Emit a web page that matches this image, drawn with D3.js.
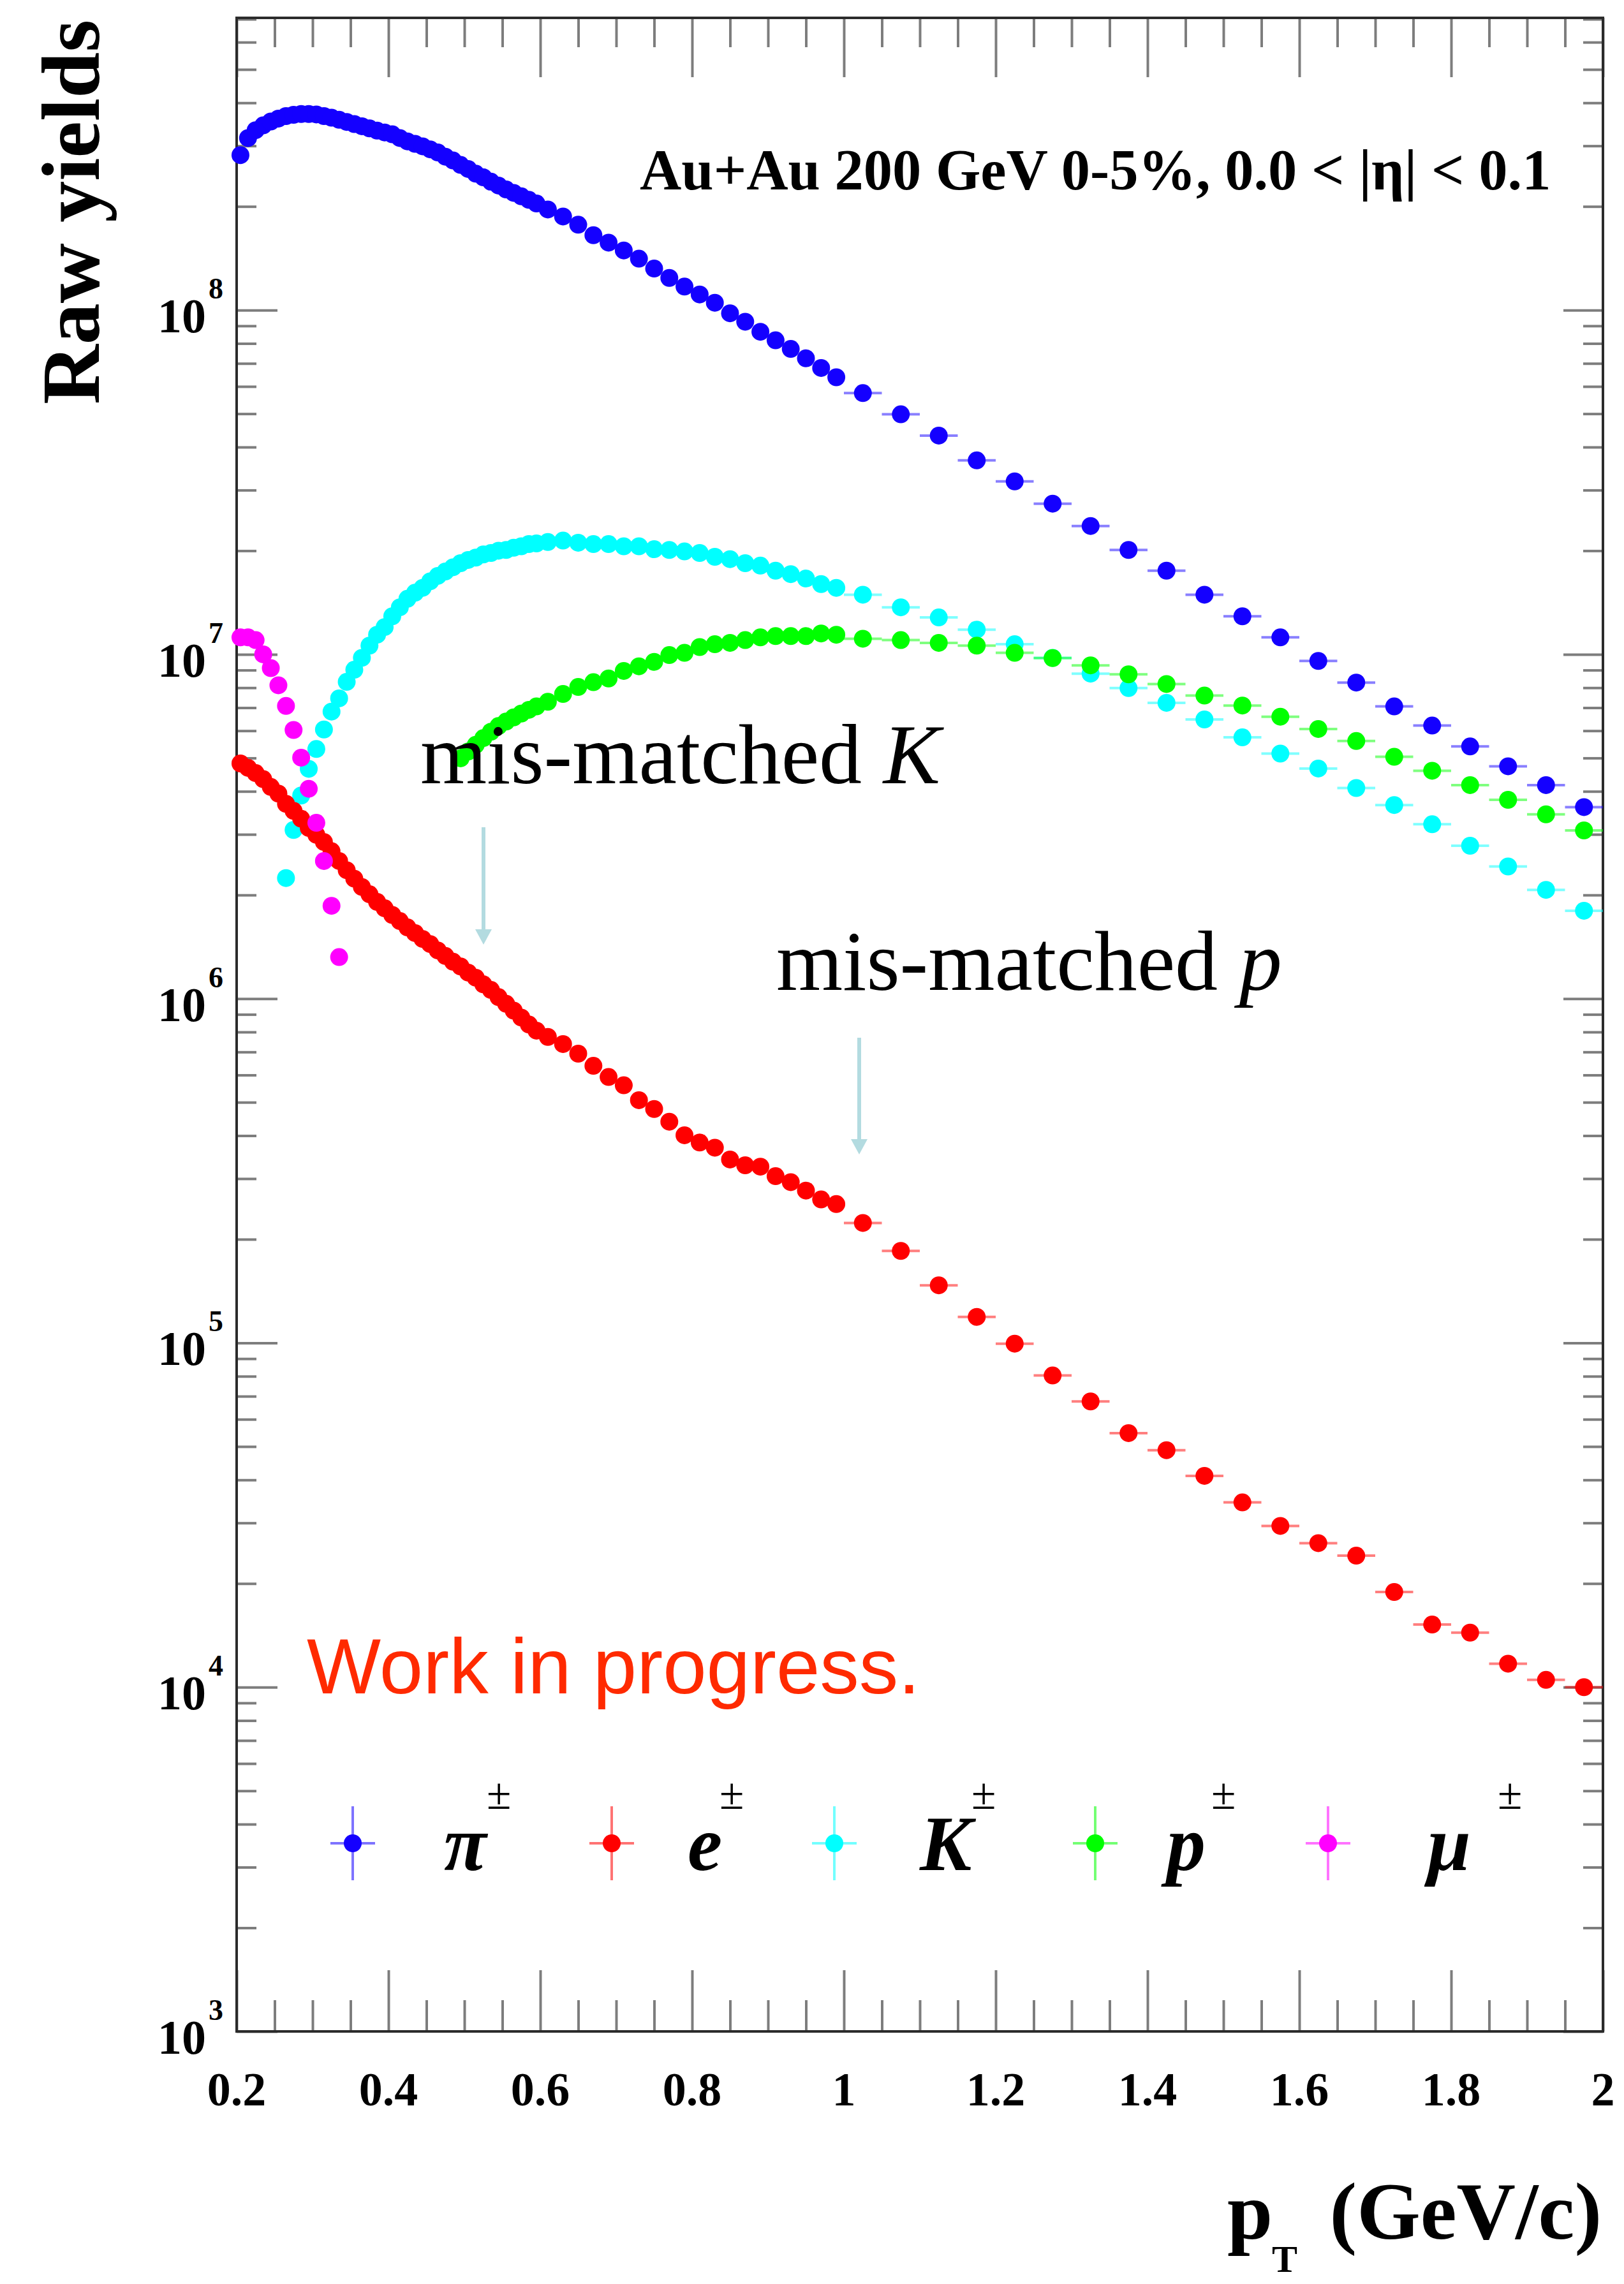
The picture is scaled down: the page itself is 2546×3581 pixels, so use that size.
<!DOCTYPE html>
<html>
<head>
  <meta charset="utf-8">
  <title>Raw yields vs pT</title>
  <style>
    body { margin: 0; background: #fff; }
    svg text { font-family: "Liberation Serif", "Times New Roman", serif; }
  </style>
</head>
<body>
<div id="chart"></div>
<script src="https://d3js.org/d3.v7.min.js"></script>
<script>
// pT bin centres (GeV/c): 0.01 wide below 0.6, 0.02 wide to 1.0, 0.05 wide above
var ptBins = [0.205, 0.215, 0.225, 0.235, 0.245, 0.255, 0.265, 0.275, 0.285, 0.295,
              0.305, 0.315, 0.325, 0.335, 0.345, 0.355, 0.365, 0.375, 0.385, 0.395,
              0.405, 0.415, 0.425, 0.435, 0.445, 0.455, 0.465, 0.475, 0.485, 0.495,
              0.505, 0.515, 0.525, 0.535, 0.545, 0.555, 0.565, 0.575, 0.585, 0.595,
              0.61, 0.63, 0.65, 0.67, 0.69, 0.71, 0.73, 0.75, 0.77, 0.79,
              0.81, 0.83, 0.85, 0.87, 0.89, 0.91, 0.93, 0.95, 0.97, 0.99,
              1.025, 1.075, 1.125, 1.175, 1.225, 1.275, 1.325, 1.375, 1.425, 1.475,
              1.525, 1.575, 1.625, 1.675, 1.725, 1.775, 1.825, 1.875, 1.925, 1.975];

// raw yields, one value per bin starting at the series' first bin
var pionYield = [2.82e8, 3.16e8, 3.33e8, 3.44e8, 3.53e8, 3.60e8, 3.66e8, 3.69e8, 3.71e8, 3.71e8,
                 3.70e8, 3.66e8, 3.62e8, 3.57e8, 3.52e8, 3.47e8, 3.42e8, 3.37e8, 3.32e8, 3.28e8,
                 3.24e8, 3.16e8, 3.09e8, 3.04e8, 2.99e8, 2.93e8, 2.87e8, 2.79e8, 2.72e8, 2.64e8,
                 2.57e8, 2.49e8, 2.43e8, 2.36e8, 2.30e8, 2.24e8, 2.19e8, 2.14e8, 2.09e8, 2.04e8,
                 1.96e8, 1.87e8, 1.77e8, 1.65e8, 1.57e8, 1.49e8, 1.41e8, 1.32e8, 1.24e8, 1.17e8,
                 1.11e8, 1.05e8, 9.79e7, 9.25e7, 8.65e7, 8.17e7, 7.71e7, 7.24e7, 6.79e7, 6.38e7,
                 5.74e7, 4.98e7, 4.32e7, 3.66e7, 3.18e7, 2.74e7, 2.36e7, 2.01e7, 1.75e7, 1.49e7,
                 1.29e7, 1.12e7, 9.57e6, 8.28e6, 7.06e6, 6.21e6, 5.40e6, 4.73e6, 4.17e6, 3.60e6];

var electronYield = [4.82e6, 4.68e6, 4.52e6, 4.34e6, 4.12e6, 3.94e6, 3.68e6, 3.51e6, 3.33e6, 3.13e6,
                     2.99e6, 2.85e6, 2.68e6, 2.51e6, 2.36e6, 2.23e6, 2.11e6, 2.01e6, 1.91e6, 1.83e6,
                     1.75e6, 1.68e6, 1.61e6, 1.55e6, 1.49e6, 1.44e6, 1.38e6, 1.33e6, 1.28e6, 1.24e6,
                     1.19e6, 1.15e6, 1.10e6, 1.06e6, 1.01e6, 9.66e5, 9.23e5, 8.81e5, 8.41e5, 8.07e5,
                     7.74e5, 7.38e5, 6.92e5, 6.38e5, 5.92e5, 5.60e5, 5.07e5, 4.78e5, 4.39e5, 4.01e5,
                     3.82e5, 3.69e5, 3.41e5, 3.28e5, 3.25e5, 3.05e5, 2.93e5, 2.77e5, 2.61e5, 2.53e5,
                     2.23e5, 1.85e5, 1.47e5, 1.19e5, 9.95e4, 8.04e4, 6.76e4, 5.47e4, 4.88e4, 4.11e4,
                     3.44e4, 2.94e4, 2.62e4, 2.41e4, 1.89e4, 1.52e4, 1.44e4, 1.17e4, 1.05e4, 1.00e4];

var kaonYield = [2.24e6, 3.09e6, 3.89e6, 4.65e6, 5.31e6, 6.05e6, 6.82e6, 7.45e6, 8.32e6, 9.02e6,
                 9.77e6, 1.06e7, 1.14e7, 1.20e7,
                 1.29e7, 1.37e7, 1.45e7, 1.51e7, 1.56e7, 1.63e7, 1.69e7, 1.74e7, 1.79e7, 1.84e7,
                 1.88e7, 1.91e7, 1.95e7, 1.97e7, 2.00e7, 2.01e7, 2.04e7, 2.06e7, 2.09e7, 2.10e7,
                 2.12e7, 2.14e7, 2.11e7, 2.09e7, 2.09e7, 2.06e7, 2.06e7, 2.02e7, 2.01e7, 1.99e7,
                 1.97e7, 1.92e7, 1.89e7, 1.84e7, 1.81e7, 1.75e7, 1.71e7, 1.66e7, 1.60e7, 1.56e7,
                 1.49e7, 1.37e7, 1.28e7, 1.18e7, 1.07e7, 9.77e6, 8.79e6, 7.98e6, 7.23e6, 6.47e6,
                 5.74e6, 5.15e6, 4.66e6, 4.09e6, 3.65e6, 3.21e6, 2.78e6, 2.42e6, 2.07e6, 1.80e6];

var protonYield = [4.99e6, 5.22e6, 5.46e6, 5.71e6, 5.96e6, 6.19e6, 6.38e6, 6.56e6, 6.73e6, 6.90e6,
                   7.06e6,
                   7.28e6, 7.67e6, 8.04e6, 8.30e6, 8.51e6, 8.95e6, 9.23e6, 9.51e6, 9.95e6, 1.01e7,
                   1.05e7, 1.07e7, 1.08e7, 1.10e7, 1.12e7, 1.13e7, 1.13e7, 1.13e7, 1.15e7, 1.14e7,
                   1.11e7, 1.10e7, 1.08e7, 1.06e7, 1.01e7, 9.75e6, 9.29e6, 8.75e6, 8.20e6, 7.59e6,
                   7.10e6, 6.59e6, 6.07e6, 5.60e6, 5.04e6, 4.59e6, 4.17e6, 3.78e6, 3.43e6, 3.08e6];

var muonYield = [1.12e7, 1.12e7, 1.10e7, 1.00e7, 9.12e6, 8.13e6, 7.08e6, 6.03e6, 5.01e6, 4.07e6,
                 3.24e6, 2.51e6, 1.86e6, 1.32e6];

var speciesNames = ["pi", "e", "K", "p", "mu"];
var speciesStart = [0, 0, 6, 29, 0];
var speciesValues = [pionYield, electronYield, kaonYield, protonYield, muonYield];
var legendSymbols = ["\u03c0", "e", "K", "p", "\u03bc"];

var colors = { pi: "#1400ff", e: "#ff0000", K: "#00ffff", p: "#00ff00", mu: "#ff00ff" };
var drawOrder = ["pi", "K", "e", "p", "mu"];

var width = 2546, height = 3581;
var frame = { left: 371, right: 2513, top: 28, bottom: 3185 };

var x = d3.scaleLinear().domain([0.2, 2.0]).range([frame.left, frame.right]);
var y = d3.scaleLog().domain([1e3, 7.06e8]).range([frame.bottom, frame.top]);

var svg = d3.select("#chart").append("svg")
    .attr("width", width)
    .attr("height", height)
    .style("background", "#fff");

// ---- ticks on all four sides, pointing inwards ----
var xAll = x.ticks(36);
var xMajor = xAll.filter(function(v) { return Math.abs(v * 5 - Math.round(v * 5)) < 1e-6; });
var xMinor = xAll.filter(function(v) { return xMajor.indexOf(v) < 0; });
var yAll = y.ticks();
var yMajor = yAll.filter(function(v) { return Math.abs(Math.log10(v) - Math.round(Math.log10(v))) < 1e-6; });
var yMinor = yAll.filter(function(v) { return yMajor.indexOf(v) < 0; });

function ticks(axis, tr, size, values) {
  svg.append("g")
      .attr("transform", tr)
      .call(axis.tickValues(values).tickSize(size).tickSizeOuter(0).tickFormat(""))
      .call(function(g) { g.select(".domain").remove(); })
      .call(function(g) {
        g.selectAll("line").attr("stroke", "#7d7d7d").attr("stroke-width", 4);
      });
}

ticks(d3.axisBottom(x), "translate(0," + frame.bottom + ")", -96, xMajor);
ticks(d3.axisBottom(x), "translate(0," + frame.bottom + ")", -49, xMinor);
ticks(d3.axisTop(x), "translate(0," + frame.top + ")", -93, xMajor);
ticks(d3.axisTop(x), "translate(0," + frame.top + ")", -46, xMinor);
ticks(d3.axisLeft(y), "translate(" + frame.left + ",0)", -64, yMajor);
ticks(d3.axisLeft(y), "translate(" + frame.left + ",0)", -31, yMinor);
ticks(d3.axisRight(y), "translate(" + frame.right + ",0)", -62, yMajor);
ticks(d3.axisRight(y), "translate(" + frame.right + ",0)", -31, yMinor);

svg.append("rect")
    .attr("x", frame.left).attr("y", frame.top)
    .attr("width", frame.right - frame.left)
    .attr("height", frame.bottom - frame.top)
    .attr("fill", "none")
    .attr("stroke", "#2b2b2b")
    .attr("stroke-width", 4);

// ---- tick labels ----
svg.append("g").selectAll("text")
    .data(xMajor)
    .enter().append("text")
    .attr("x", function(d) { return x(d); })
    .attr("y", 3301)
    .attr("text-anchor", "middle")
    .attr("font-weight", "bold")
    .attr("font-size", 74)
    .text(d3.format("~g"));

var yLab = svg.append("g").selectAll("g")
    .data(yMajor)
    .enter().append("g");
yLab.append("text")
    .attr("x", 323)
    .attr("y", function(d) { return y(d) + 35; })
    .attr("text-anchor", "end")
    .attr("font-weight", "bold")
    .attr("font-size", 76)
    .text("10");
yLab.append("text")
    .attr("x", 327)
    .attr("y", function(d) { return y(d) - 18; })
    .attr("font-weight", "bold")
    .attr("font-size", 46)
    .text(function(d) { return Math.round(Math.log10(d)); });

// ---- axis titles ----
svg.append("text")
    .attr("transform", "translate(155,31) rotate(-90)")
    .attr("text-anchor", "end")
    .attr("font-weight", "bold")
    .attr("font-size", 130)
    .text("Raw yields");

var xt = svg.append("g").attr("font-weight", "bold");
xt.append("text").attr("x", 1924).attr("y", 3510).attr("font-size", 128).text("p");
xt.append("text").attr("x", 1994).attr("y", 3562).attr("font-size", 60).text("T");
xt.append("text").attr("x", 2511).attr("y", 3510).attr("text-anchor", "end")
    .attr("font-size", 128).text("(GeV/c)");

// ---- header ----
svg.append("text")
    .attr("x", 1003).attr("y", 297)
    .attr("font-weight", "bold")
    .attr("font-size", 90.5)
    .text("Au+Au 200 GeV 0-5%, 0.0 < |\u03b7| < 0.1");

// ---- data points with x error bars ----
var points = svg.append("g");
drawOrder.forEach(function(key) {
  var i = speciesNames.indexOf(key);
  var rows = speciesValues[i].map(function(v, j) {
    var pt = ptBins[speciesStart[i] + j];
    var half = pt < 0.6 ? 0.005 : (pt < 1 ? 0.01 : 0.025);
    return { pt: pt, half: half, v: v };
  });
  var g = points.append("g").attr("class", "series-" + key);
  g.selectAll("line")
      .data(rows)
      .enter().append("line")
      .attr("x1", function(d) { return x(d.pt - d.half); })
      .attr("x2", function(d) { return x(d.pt + d.half); })
      .attr("y1", function(d) { return y(d.v); })
      .attr("y2", function(d) { return y(d.v); })
      .attr("stroke", colors[key])
      .attr("stroke-opacity", 0.5)
      .attr("stroke-width", 4);
  g.selectAll("circle")
      .data(rows)
      .enter().append("circle")
      .attr("cx", function(d) { return x(d.pt); })
      .attr("cy", function(d) { return y(d.v); })
      .attr("r", 14)
      .attr("fill", colors[key]);
});

// ---- annotations ----
svg.append("text")
    .attr("x", 659).attr("y", 1228)
    .attr("font-size", 134)
    .text("mis-matched ")
    .append("tspan").attr("font-style", "italic").text("K");

svg.append("text")
    .attr("x", 1217).attr("y", 1552)
    .attr("font-size", 134)
    .text("mis-matched ")
    .append("tspan").attr("font-style", "italic").text("p");

var arrowColor = "#b3dbe0";
[[758, 1297, 1481], [1347, 1627, 1810]].forEach(function(a) {
  svg.append("rect")
      .attr("x", a[0] - 3).attr("y", a[1])
      .attr("width", 6).attr("height", a[2] - a[1] - 22)
      .attr("fill", arrowColor);
  svg.append("path")
      .attr("d", "M" + (a[0] - 13) + "," + (a[2] - 24) + "L" + (a[0] + 13) + "," + (a[2] - 24) +
                 "L" + a[0] + "," + a[2] + "Z")
      .attr("fill", arrowColor);
});

svg.append("text")
    .attr("x", 481).attr("y", 2655)
    .style("font-family", "'Liberation Sans', Arial, sans-serif")
    .attr("font-size", 123)
    .attr("fill", "#ff2a00")
    .text("Work in progress.");

// ---- legend ----
var legendMarkX = [553, 959, 1308, 1717, 2082];
var legendTextX = [696, 1078, 1442, 1829, 2238];
var legendPmX = [763, 1128, 1523, 1899, 2348];
var legY = 2890;
var leg = svg.append("g");
speciesNames.forEach(function(key, i) {
  var g = leg.append("g");
  g.append("line")
      .attr("x1", legendMarkX[i]).attr("x2", legendMarkX[i])
      .attr("y1", legY - 58).attr("y2", legY + 58)
      .attr("stroke", colors[key]).attr("stroke-opacity", 0.55).attr("stroke-width", 4);
  g.append("line")
      .attr("x1", legendMarkX[i] - 35).attr("x2", legendMarkX[i] + 35)
      .attr("y1", legY).attr("y2", legY)
      .attr("stroke", colors[key]).attr("stroke-opacity", 0.55).attr("stroke-width", 4);
  g.append("circle")
      .attr("cx", legendMarkX[i]).attr("cy", legY).attr("r", 14)
      .attr("fill", colors[key]);
  g.append("text")
      .attr("x", legendTextX[i]).attr("y", 2932)
      .attr("font-size", 122)
      .attr("font-weight", "bold")
      .attr("font-style", "italic")
      .text(legendSymbols[i]);
  g.append("text")
      .attr("x", legendPmX[i]).attr("y", 2836)
      .attr("font-size", 70)
      .text("\u00b1");
});
</script>
</body>
</html>
